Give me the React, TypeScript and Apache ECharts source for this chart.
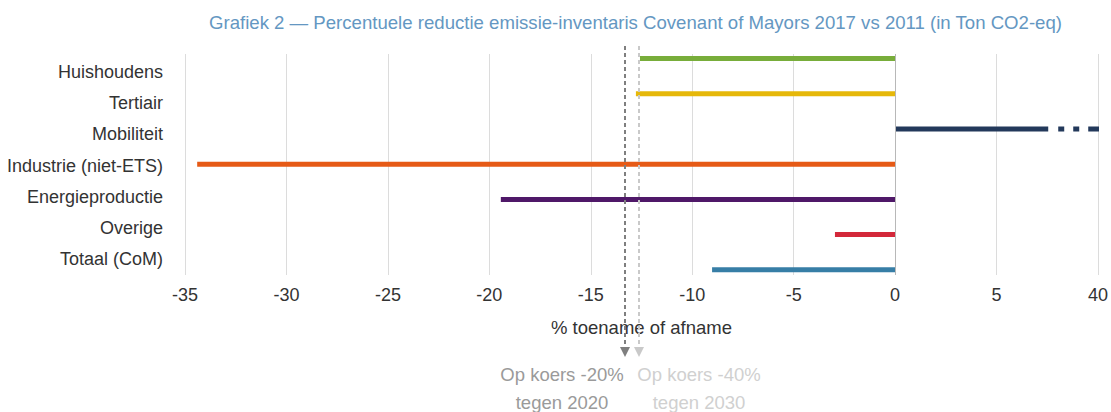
import React, { useEffect, useRef } from "react";
import * as echarts from "echarts";

const TITLE = "Grafiek 2 — Percentuele reductie emissie-inventaris Covenant of Mayors 2017 vs 2011 (in Ton CO2-eq)";
const categories = ["Huishoudens", "Tertiair", "Mobiliteit", "Industrie (niet-ETS)", "Energieproductie", "Overige", "Totaal (CoM)"];
const values = [-12.6, -12.8, 7.5, -34.4, -19.45, -3.0, -9.05];
const colors = ["#78ad3a", "#e6b80a", "#23395b", "#e65a16", "#4f1868", "#d3283a", "#377ea6"];
// Mobiliteit continues beyond the axis break (dotted part, shown up to the "40" tick)
const mobilityBreak = [7.5, 10];
const tickLabelMap: Record<string, string> = { "10": "40" };
const targetValues = [-13.3, -12.6];
const targetColors = ["#7f7f7f", "#c9c9c9"];
const targetTextColors = ["#9a9a9a", "#d0d0d0"];
const targetLabels = [["Op koers -20%", "tegen 2020"], ["Op koers -40%", "tegen 2030"]];
const axisName = "% toename of afname";

const FONT = "'Liberation Sans', Arial, sans-serif";

export default function App() {
  const ref = useRef<HTMLDivElement>(null);
  useEffect(() => {
    document.body.style.margin = "0";
    const chart = echarts.init(ref.current!, null, { renderer: "svg" });
    const option: any = {
      animation: false,
      textStyle: { fontFamily: FONT },
      title: {
        text: TITLE,
        left: 204,
        top: 8,
        textStyle: { fontFamily: FONT, fontSize: 18.6, fontWeight: "normal", color: "#6497c2" },
      },
      grid: [
        { left: 185, right: 12, top: 54, height: 221 },
        { left: 185, right: 12, top: 41, height: 246.4 },
        { left: 185, right: 12, top: 56, height: 219 },
      ],
      xAxis: [
        {
          gridIndex: 0,
          type: "value",
          min: -35,
          max: 10,
          interval: 5,
          axisLine: { show: false },
          axisTick: { show: false },
          splitLine: { show: true, lineStyle: { color: "#dcdcdc", width: 1 } },
          axisLabel: {
            margin: 11,
            fontSize: 18,
            color: "#333",
            fontFamily: FONT,
            formatter: (v: number) => tickLabelMap[String(v)] ?? String(v),
          },
          name: axisName,
          nameLocation: "middle",
          nameGap: 43,
          nameTextStyle: { fontSize: 18.5, color: "#333", fontFamily: FONT },
        },
        { gridIndex: 1, type: "value", min: -35, max: 10, interval: 5, show: false, splitLine: { show: false } },
        { gridIndex: 2, type: "value", min: -35, max: 10, interval: 5, show: false, splitLine: { show: false } },
      ],
      yAxis: [
        { gridIndex: 0, type: "value", min: 0, max: 1, show: false, splitLine: { show: false } },
        {
          gridIndex: 1,
          type: "category",
          data: categories,
          inverse: true,
          show: false,
        },
        {
          gridIndex: 2,
          type: "category",
          data: categories,
          inverse: true,
          boundaryGap: true,
          axisLine: { show: false },
          axisTick: { show: false },
          splitLine: { show: false },
          axisLabel: { margin: 22, fontSize: 18, color: "#333", fontFamily: FONT },
        },
      ],
      series: [
        {
          type: "scatter",
          xAxisIndex: 0,
          yAxisIndex: 0,
          data: [[0, 0.5]],
          symbolSize: 0,
          silent: true,
          markLine: {
            silent: true,
            symbol: "none",
            label: { show: false },
            lineStyle: { color: "#b8b8b8", type: "solid", width: 1 },
            data: [{ xAxis: 0 }],
          },
        },
        {
          type: "bar",
          xAxisIndex: 1,
          yAxisIndex: 1,
          barWidth: 5,
          clip: false,
          data: values.map((v, i) => ({ value: v, itemStyle: { color: colors[i] } })),
        },
        {
          type: "line",
          xAxisIndex: 1,
          yAxisIndex: 1,
          symbol: "none",
          data: mobilityBreak.map((v) => [v, categories[2]]),
          lineStyle: { color: colors[2], width: 5, type: [0.01, 10, 6, 9, 6, 9, 11], dashOffset: 0, cap: "butt" },
        },
      ],
    };
    chart.setOption(option);

    const graphics: any[] = [];
    targetValues.forEach((v, i) => {
      const x = Math.round(chart.convertToPixel({ xAxisIndex: 0 }, v) as number);
      graphics.push({
        type: "line",
        z: 10,
        shape: { x1: x, y1: 46, x2: x, y2: 348 },
        style: { stroke: targetColors[i], lineWidth: 2, lineDash: [4, 3] },
      });
      graphics.push({
        type: "polygon",
        z: 10,
        shape: { points: [[x - 5, 347], [x + 5, 347], [x, 357]] },
        style: { fill: targetColors[i] },
      });
      const cx = i === 0 ? x - 63 : x + 60;
      targetLabels[i].forEach((t, j) => {
        graphics.push({
          type: "text",
          z: 10,
          x: cx,
          y: 374 + j * 28,
          style: {
            text: t,
            fill: targetTextColors[i],
            font: `18.5px ${FONT}`,
            align: "center",
            verticalAlign: "middle",
          },
        });
      });
    });
    chart.setOption({ graphic: graphics });

    return () => chart.dispose();
  }, []);
  return <div ref={ref} style={{ width: 1111, height: 412 }} />;
}
